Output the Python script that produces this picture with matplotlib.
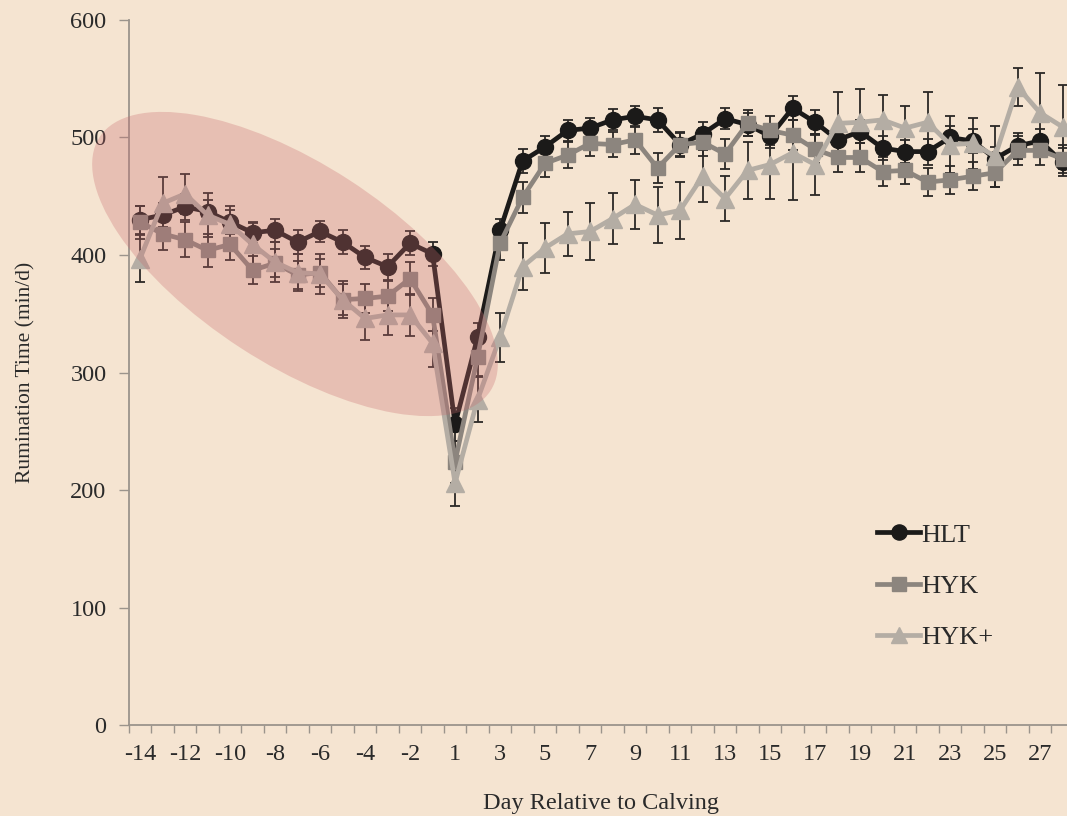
import matplotlib
matplotlib.use("Agg")
import matplotlib.pyplot as plt
from matplotlib.patches import Ellipse
from matplotlib.transforms import IdentityTransform

days = list(range(-14, 0)) + list(range(1, 29))

hlt = [430, 434, 441, 437, 428, 419, 421, 411, 420, 411, 398, 390, 410, 401,
       256, 330, 421, 480, 492, 506, 508, 515, 518, 515,
       494, 503, 516, 511, 501, 525, 513, 498, 505, 491,
       488, 488, 500, 497, 482, 493, 497, 479]
hlt_se = [12, 10, 11, 10, 10, 9, 10, 10, 9, 10, 10, 11, 10, 10,
          14, 12, 10, 10, 9, 9, 9, 9, 9, 10,
          10, 10, 9, 10, 10, 10, 10, 11, 10, 10,
          10, 11, 10, 10, 10, 11, 10, 12]

hyk = [428, 418, 413, 404, 409, 387, 393, 383, 385, 362, 363, 365, 380, 349,
       224, 313, 410, 449, 478, 485, 495, 494, 498, 474,
       494, 496, 486, 512, 506, 502, 490, 483, 483, 471,
       472, 462, 464, 467, 470, 489, 489, 482]
hyk_se = [14, 14, 15, 14, 13, 12, 12, 12, 12, 13, 12, 13, 14, 14,
          18, 16, 14, 13, 12, 11, 11, 11, 12, 13,
          11, 12, 13, 11, 12, 13, 12, 12, 12, 12,
          12, 12, 12, 12, 12, 12, 12, 12]

hyk_plus = [397, 444, 452, 434, 426, 409, 394, 385, 384, 362, 346, 349, 349, 325,
            206, 277, 330, 390, 406, 418, 420, 431, 443, 434,
            438, 467, 448, 472, 477, 487, 477, 512, 513, 515,
            508, 513, 494, 495, 484, 543, 521, 509]
hyk_plus_se = [20, 22, 17, 19, 16, 18, 17, 16, 17, 16, 18, 17, 18, 20,
               20, 19, 21, 20, 21, 19, 24, 22, 21, 24,
               24, 22, 19, 24, 29, 40, 26, 27, 28, 21,
               19, 26, 24, 22, 26, 16, 34, 36]

series = [("HLT", hlt, hlt_se, "#1b1a19", "o", 11.5),
          ("HYK", hyk, hyk_se, "#8c857e", "s", 10.5),
          ("HYK+", hyk_plus, hyk_plus_se, "#b4ada4", "^", 12.5)]

bg = "#f5e4d1"
serif = ["Liberation Serif", "DejaVu Serif"]
plt.rcParams["font.family"] = serif

fig = plt.figure(figsize=(10.67, 8.16), dpi=100, facecolor=bg)
ax = fig.add_axes([0.1207, 0.1115, 0.8857, 0.864], facecolor=bg)

x = list(range(len(days)))
for name, vals, se, col, mk, ms in series:
    ax.errorbar(x, vals, yerr=se, fmt="none", ecolor="#2b2826",
                elinewidth=1.3, capsize=3.8, capthick=1.3, zorder=2)
    ax.plot(x, vals, color=col, lw=3.4, marker=mk, markersize=ms,
            markerfacecolor=col, markeredgecolor=col, label=name, zorder=3)

ax.set_xlim(-0.5, 41.5)
ax.set_ylim(0, 600)
ax.set_yticks(range(0, 601, 100))
ax.set_xticks(x[::2])
ax.set_xticklabels([str(d) for d in days[::2]])
ax.set_xticks([i + 0.5 for i in range(-1, len(days))], minor=True)
ax.tick_params(axis="x", which="major", length=0, pad=14, labelsize=17.5, colors="#2a2a2a")
ax.tick_params(axis="x", which="minor", length=6, width=1, color="#9b948c")
ax.tick_params(axis="y", length=7, width=1, color="#9b948c", labelsize=17.5,
               labelcolor="#2a2a2a", pad=9)

for s in ["top", "right"]:
    ax.spines[s].set_visible(False)
for s in ["left", "bottom"]:
    ax.spines[s].set_color("#9b948c")
    ax.spines[s].set_linewidth(1.3)

ax.set_xlabel("Day Relative to Calving", fontsize=17.5, color="#2a2a2a", labelpad=20)
ax.set_ylabel("Rumination Time (min/d)", fontsize=15.5, color="#2a2a2a", labelpad=25)

leg = ax.legend(loc="upper left", bbox_to_anchor=(0.81, 0.375), bbox_transform=fig.transFigure,
                frameon=False, fontsize=19, handlelength=1.6, handletextpad=0.05,
                labelspacing=1.05, borderpad=0, markerscale=0.95)
for t in leg.get_texts():
    t.set_color("#2a2a2a")

# highlighted pre-calving region, drawn in pixel space
ell = Ellipse((295, 816 - 264), 466, 200, angle=-33, transform=IdentityTransform(),
              facecolor=(0.79, 0.42, 0.43, 0.30), edgecolor="none", zorder=5)
fig.patches.append(ell)

fig.savefig("out.png", dpi=100, facecolor=bg)
